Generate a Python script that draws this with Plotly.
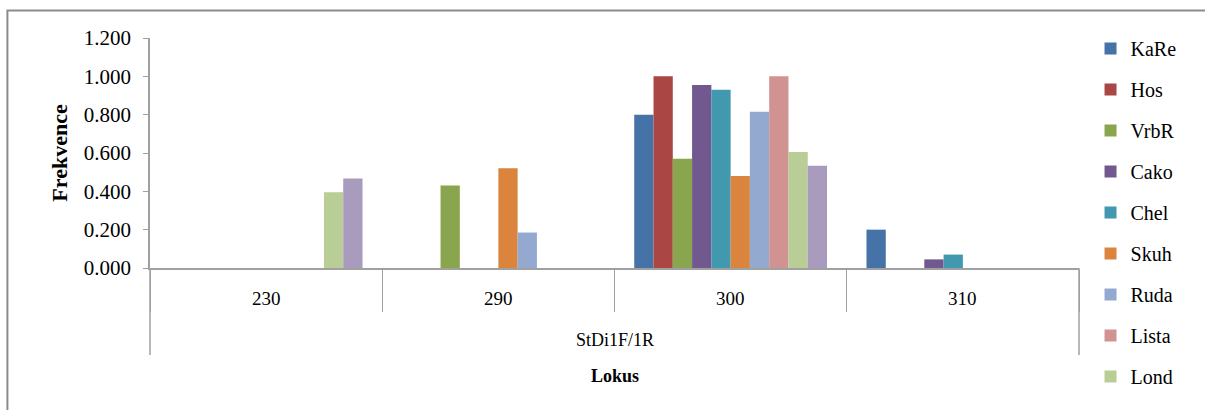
import plotly.graph_objects as go

# Allele sizes at locus StDi1F/1R and the frequency of each allele per population
locus = "StDi1F/1R"
alleles = ["230", "290", "300", "310"]

populations = ["KaRe", "Hos", "VrbR", "Cako", "Chel", "Skuh", "Ruda", "Lista", "Lond", "Tesk"]
colors = ["#4572A7", "#AA4643", "#89A54E", "#71588F", "#4198AF",
          "#DB843D", "#93A9CF", "#D19392", "#B9CD96", "#A99BBD"]

KaRe = [0.0, 0.0, 0.800, 0.200]
Hos = [0.0, 0.0, 1.000, 0.0]
VrbR = [0.0, 0.430, 0.570, 0.0]
Cako = [0.0, 0.0, 0.955, 0.045]
Chel = [0.0, 0.0, 0.930, 0.070]
Skuh = [0.0, 0.520, 0.480, 0.0]
Ruda = [0.0, 0.185, 0.815, 0.0]
Lista = [0.0, 0.0, 1.000, 0.0]
Lond = [0.395, 0.0, 0.605, 0.0]
Tesk = [0.467, 0.0, 0.533, 0.0]

series = [KaRe, Hos, VrbR, Cako, Chel, Skuh, Ruda, Lista, Lond, Tesk]

FONT = "Liberation Serif"
GREY = "#A0A0A0"
PLOT_H = 230  # pixel height of the plotting area

fig = go.Figure()
for name, vals, col in zip(populations, series, colors):
    fig.add_trace(go.Bar(
        x=alleles, y=vals, name=name, legendgroup=name,
        marker=dict(color=col, line=dict(width=0)),
        showlegend=(name != "Tesk"),
    ))

# category labels under the axis (placed by category index), then the locus name and the axis title
annotations = [
    dict(x=i, y=-30 / PLOT_H, xref="x", yref="paper", text=a, showarrow=False,
         font=dict(family=FONT, size=19), xanchor="center", yanchor="middle")
    for i, a in enumerate(alleles)
]
annotations.append(dict(x=0.5, y=-72 / PLOT_H, xref="paper", yref="paper", text=locus,
                        showarrow=False, font=dict(family=FONT, size=18),
                        xanchor="center", yanchor="middle"))
annotations.append(dict(x=0.5, y=-108 / PLOT_H, xref="paper", yref="paper",
                        text="<b>Lokus</b>", showarrow=False,
                        font=dict(family=FONT, size=18),
                        xanchor="center", yanchor="middle"))

shapes = [
    # chart frame
    dict(type="rect", xref="paper", yref="paper",
         x0=-0.1535, x1=1.2, y0=-0.8, y1=1.12,
         line=dict(color="#8C8C8C", width=2), fillcolor="rgba(0,0,0,0)", layer="below"),
    # outer brackets of the locus level
    dict(type="line", xref="paper", yref="paper", x0=0, x1=0, y0=0, y1=-87 / PLOT_H,
         line=dict(color=GREY, width=1.5)),
    dict(type="line", xref="paper", yref="paper", x0=1, x1=1, y0=0, y1=-87 / PLOT_H,
         line=dict(color=GREY, width=1.5)),
]

fig.update_layout(
    width=1205, height=410,
    margin=dict(l=150, r=126, t=38, b=142),
    paper_bgcolor="white", plot_bgcolor="white",
    barmode="group", bargap=0.17, bargroupgap=0,
    font=dict(family=FONT, size=19, color="black"),
    legend=dict(
        xref="container", yref="container", x=0.905, y=0.929,
        xanchor="left", yanchor="top",
        font=dict(family=FONT, size=20),
        tracegroupgap=12, traceorder="grouped",
        itemwidth=30, bgcolor="rgba(0,0,0,0)", maxheight=1.0,
    ),
    annotations=annotations,
    shapes=shapes,
)

fig.update_yaxes(
    range=[0, 1.2], dtick=0.2, tickformat=".3f",
    showgrid=False, zeroline=False,
    showline=True, linecolor=GREY, linewidth=1.5,
    ticks="outside", ticklen=5, tickcolor=GREY,
    ticklabelstandoff=8,
    tickfont=dict(family=FONT, size=21),
    title=dict(text="<b>Frekvence</b>", font=dict(family=FONT, size=22), standoff=10),
)
fig.update_xaxes(
    type="category", categoryorder="array", categoryarray=alleles,
    range=[-0.5, len(alleles) - 0.5],
    showgrid=False, zeroline=False,
    showline=True, linecolor=GREY, linewidth=1.5,
    ticks="outside", tickson="boundaries", ticklen=42, tickcolor=GREY,
    showticklabels=False,
)

fig.write_html("out.html")
